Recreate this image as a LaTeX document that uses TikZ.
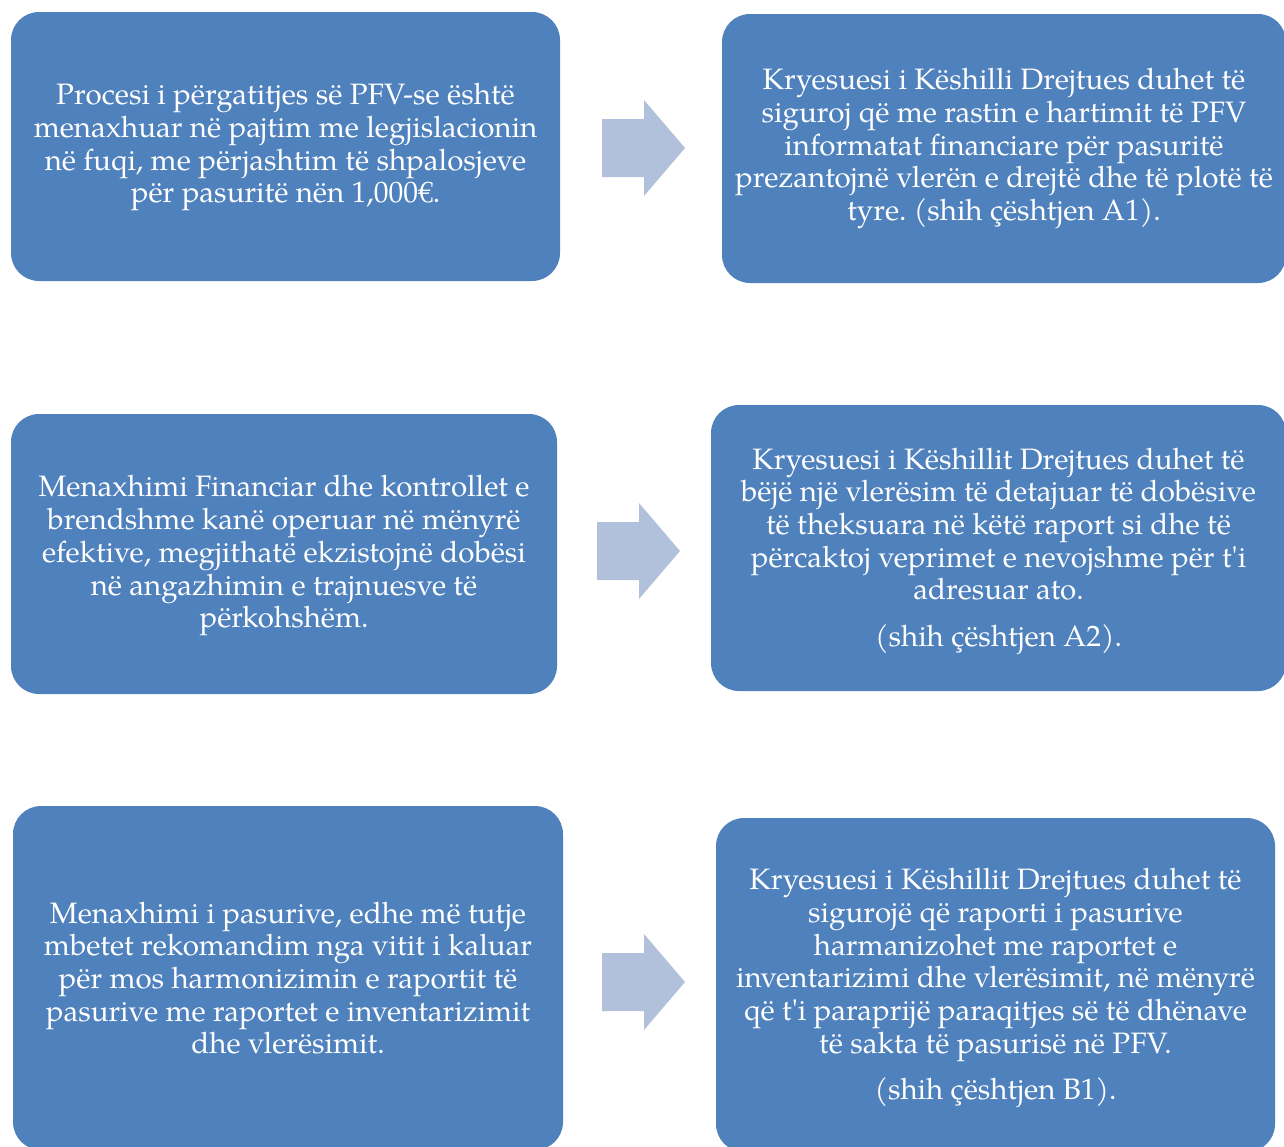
\documentclass[tikz,border=0pt]{standalone}
\usepackage{fontspec}
\setmainfont{TeX Gyre Pagella}
\newfontfamily\plainq{TeX Gyre Pagella}[Ligatures=TeXOff]
\newcommand{\apos}{{\plainq'}}
\usetikzlibrary{calc}
\definecolor{boxblue}{HTML}{4F81BD}
\definecolor{arrowblue}{HTML}{B2C1DB}
\frenchspacing
\begin{document}
\begin{tikzpicture}[x=1pt,y=-1pt,
  card/.style={rectangle, rounded corners=28pt, fill=boxblue, draw=none,
    text=white, align=center, inner sep=0pt,
    font=\fontsize{29.5}{32.7}\selectfont},
  fatarrow/.style={fill=arrowblue, draw=none}]
\useasboundingbox (0,0) rectangle (1284,1146);
\begin{scope}
\clip (0,0) rectangle (1284,1146);
% boxes
\node[card, minimum width=549pt, minimum height=269pt] (b1) at (285.5,146.5)
 {\rule{0pt}{23pt}Procesi i përgatitjes së PFV-se është\\menaxhuar në pajtim me legjislacionin\\në fuqi, me përjashtim të shpalosjeve\\për pasuritë nën 1,000€.};
\node[card, minimum width=564pt, minimum height=269pt] (b2) at (1004,148.5)
 {Kryesuesi i Këshilli Drejtues duhet të\\siguroj që me rastin e hartimit të PFV\\informatat financiare për pasuritë\\prezantojnë vlerën e drejtë dhe të plotë të\\tyre. (shih çështjen A1).};
\node[card, minimum width=546pt, minimum height=280pt] (b3) at (284,554)
 {\rule{0pt}{25pt}Menaxhimi Financiar dhe kontrollet e\\brendshme kanë operuar në mënyrë\\efektive, megjithatë ekzistojnë dobësi\\në angazhimin e trajnuesve të\\përkohshëm.};
\node[card, minimum width=575pt, minimum height=286pt] (b4) at (998.5,548)
 {\rule{0pt}{28pt}Kryesuesi i Këshillit Drejtues duhet të\\bëjë një vlerësim të detajuar të dobësive\\të theksuara në këtë raport si dhe të\\përcaktoj veprimet e nevojshme për t\apos i\\adresuar ato.\\[14pt](shih çështjen A2).};
\node[card, minimum width=550pt, minimum height=344pt] (b5) at (288,978)
 {Menaxhimi i pasurive, edhe më tutje\\mbetet rekomandim nga vitit i kaluar\\për mos harmonizimin e raportit të\\pasurive me raportet e inventarizimit\\dhe vlerësimit.};
\node[card, minimum width=559pt, minimum height=334pt] (b6) at (995.5,985)
 {\rule{0pt}{28pt}Kryesuesi i Këshillit Drejtues duhet të\\sigurojë që raporti i pasurive\\harmanizohet me raportet e\\inventarizimi dhe vlerësimit, në mënyrë\\që t\apos i paraprijë paraqitjes së të dhënave\\të sakta të pasurisë në PFV.\\[14pt](shih çështjen B1).};
\end{scope}
% block arrows
\coordinate (a1) at ($(b1.east)!0.5!(b2.west)$);
\coordinate (a2) at ($(b3.east)!0.5!(b4.west)$);
\coordinate (a3) at ($(b5.east)!0.5!(b6.west)$);
\foreach \c/\dx/\dy in {a1/1/0.5, a2/3/0, a3/2.5/0.5}{
  \fill[fatarrow] ($(\c)+(\dx,\dy)+(-40,-29)$) -- ($(\c)+(\dx,\dy)+(2,-29)$)
    -- ($(\c)+(\dx,\dy)+(2,-48)$) -- ($(\c)+(\dx,\dy)+(43,0)$)
    -- ($(\c)+(\dx,\dy)+(2,48)$) -- ($(\c)+(\dx,\dy)+(2,29)$)
    -- ($(\c)+(\dx,\dy)+(-40,29)$) -- cycle;
}
\end{tikzpicture}
\end{document}
